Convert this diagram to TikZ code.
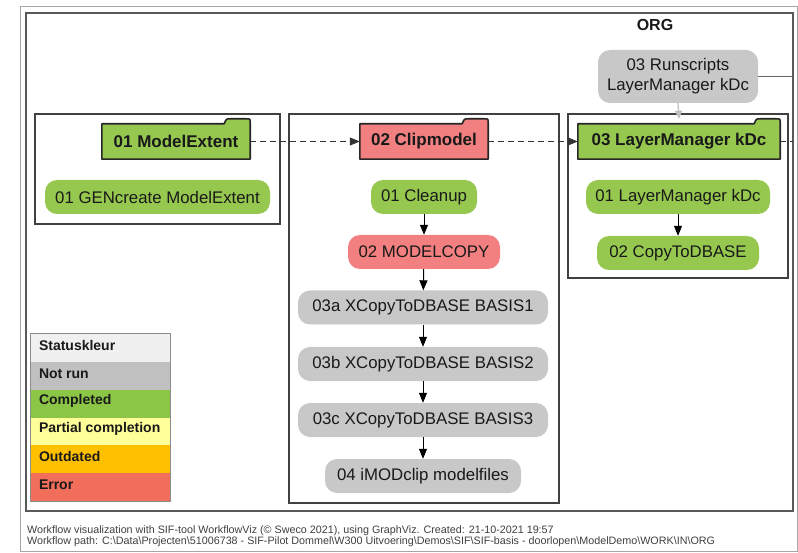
\documentclass[tikz,border=0pt]{standalone}
\usepackage{fontspec}
\setmainfont{Liberation Sans}
\usetikzlibrary{arrows.meta,calc}
\definecolor{txt}{RGB}{25,25,25}
\definecolor{ngreen}{RGB}{150,200,80}
\definecolor{nred}{RGB}{242,128,128}
\definecolor{ngray}{RGB}{200,200,200}
\definecolor{lgstat}{RGB}{240,240,240}
\definecolor{lgnot}{RGB}{192,192,192}
\definecolor{lggreen}{RGB}{140,198,70}
\definecolor{lgyellow}{RGB}{255,255,153}
\definecolor{lgorange}{RGB}{255,192,0}
\definecolor{lgred}{RGB}{240,110,90}
\newcommand\folderdraw[2]{%
  \fill[#2] ([xshift=-26pt]#1.north east) .. controls ([xshift=-24pt,yshift=5pt]#1.north east) .. ([xshift=-20pt,yshift=5pt]#1.north east) -- ([xshift=-4pt,yshift=5pt]#1.north east) .. controls ([yshift=5pt]#1.north east) .. ([yshift=1pt]#1.north east) -- (#1.north east) -- cycle;
  \draw[folderline] (#1.south west) -- (#1.north west) -- ([xshift=-26pt]#1.north east) .. controls ([xshift=-24pt,yshift=5pt]#1.north east) .. ([xshift=-20pt,yshift=5pt]#1.north east) -- ([xshift=-4pt,yshift=5pt]#1.north east) .. controls ([yshift=5pt]#1.north east) .. ([yshift=1pt]#1.north east) -- (#1.south east) -- cycle;}
\begin{document}
\begin{tikzpicture}[x=1pt,y=-1pt,
  task/.style={rounded corners=12pt, minimum height=34pt, inner sep=0pt, text=txt, font=\fontsize{16.8}{20}\selectfont},
  gtask/.style={task, fill=ngreen},
  rtask/.style={task, fill=nred},
  ntask/.style={task, fill=ngray},
  folder/.style={minimum height=35pt, inner sep=0pt, text=txt, font=\bfseries\fontsize{17}{20}\selectfont},
  folderline/.style={draw=black!85, line width=1.6pt, line join=round},
  cluster/.style={draw=black!75, line width=1.1pt, inner sep=0pt},
  legrow/.style={minimum width=139pt, minimum height=27.8pt, inner sep=0pt, text width=125pt, align=left, text=txt, font=\bfseries\fontsize{14}{16}\selectfont},
  legtext/.style={anchor=west, inner sep=0pt, text=txt, font=\bfseries\fontsize{14}{16}\selectfont},
  tip/.style={-{Triangle[length=10pt,width=8pt]}},
  flow/.style={draw=black, line width=1pt, tip},
  dflow/.style={draw=black!80, line width=1pt, dash pattern=on 6pt off 4pt},
  footer/.style={anchor=west, inner sep=0pt, text=black!75, font=\fontsize{10.75}{12}\selectfont}
]
\useasboundingbox (0,0) rectangle (798,553);
\fill[white] (0,0) rectangle (798,553);
% frames
\node[draw=black!35, line width=1pt, minimum width=777pt, minimum height=544pt, inner sep=0pt] (outer) at (408.5,279) {};
\node[draw=black!65, line width=1.4pt, minimum width=767pt, minimum height=498pt, inner sep=0pt] (frame) at (409.5,262) {};
\node[text=txt, font=\bfseries\fontsize{16}{19}\selectfont] (org) at (655,25) {ORG};
% clusters
\node[cluster, minimum width=245pt, minimum height=110pt] (c1) at (157.5,169) {};
\node[cluster, minimum width=270pt, minimum height=389pt] (c2) at (424,308.5) {};
\node[cluster, minimum width=220pt, minimum height=164pt] (c3) at (678,196) {};
% folder nodes
\node[folder, fill=ngreen, minimum width=148pt] (f1) at (176,141.5) {01 ModelExtent};
\folderdraw{f1}{ngreen}
\node[folder, fill=nred, minimum width=128pt] (f2) at (424,141.5) {02 Clipmodel};
\folderdraw{f2}{nred}
\node[folder, fill=ngreen, minimum width=202pt] (f3) at (679,141.5) {03 LayerManager kDc};
\folderdraw{f3}{ngreen}
% tasks
\node[ntask, minimum width=160pt, minimum height=53pt, align=center, font=\fontsize{16.8}{20}\selectfont] (rs) at (678,76.5) {03 Runscripts\\LayerManager kDc};
\node[gtask, minimum width=225pt] (gen) at (157.5,197) {01 GENcreate ModelExtent};
\node[gtask, minimum width=106pt] (clean) at (424,197) {01 Cleanup};
\node[rtask, minimum width=152pt] (mcopy) at (424,252) {02 MODELCOPY};
\node[ntask, minimum width=250pt] (b1) at (423,307.5) {03a XCopyToDBASE BASIS1};
\node[ntask, minimum width=250pt] (b2) at (423,364) {03b XCopyToDBASE BASIS2};
\node[ntask, minimum width=250pt] (b3) at (423,420) {03c XCopyToDBASE BASIS3};
\node[ntask, minimum width=196pt] (imod) at (423,476) {04 iMODclip modelfiles};
\node[gtask, minimum width=184pt] (lm1) at (678,197) {01 LayerManager kDc};
\node[gtask, minimum width=162pt] (lm2) at (678,253) {02 CopyToDBASE};
% edges
\draw[flow] (clean) -- (mcopy);
\draw[flow] (mcopy) -- (b1);
\draw[flow] (b1) -- (b2);
\draw[flow] (b2) -- (b3);
\draw[flow] (b3) -- (imod);
\draw[flow] (lm1) -- (lm2);
\draw[dflow, tip] (f1.east) -- (f2.west);
\draw[dflow, tip] (f2.east) -- (f3.west);
\coordinate (out1) at (793,141.5);
\coordinate (out2) at (793,76.5);
\draw[dflow] (f3.east) -- (out1);
\draw[draw=black!60, line width=1pt] (rs.east) -- (out2);
\draw[draw=black!25, line width=1.2pt, -{Triangle[length=8pt,width=7pt]}] (rs.south) -- ([yshift=5pt]f3.north);
% legend
\node[legrow, fill=lgstat] (l0) at (100.5,348) {};
\node[legrow, fill=lgnot] (l1) at (100.5,375.8) {};
\node[legrow, fill=lggreen] (l2) at (100.5,403.6) {};
\node[legrow, fill=lgyellow] (l3) at (100.5,431.4) {};
\node[legrow, fill=lgorange] (l4) at (100.5,459.2) {};
\node[legrow, fill=lgred] (l5) at (100.5,487) {};
\node[legtext] (t0) at ([xshift=8pt,yshift=2.5pt]l0.west) {Statuskleur};
\node[legtext] (t1) at ([xshift=8pt,yshift=2.5pt]l1.west) {Not run};
\node[legtext] (t2) at ([xshift=8pt,yshift=2.5pt]l2.west) {Completed};
\node[legtext] (t3) at ([xshift=8pt,yshift=2.5pt]l3.west) {Partial completion};
\node[legtext] (t4) at ([xshift=8pt,yshift=2.5pt]l4.west) {Outdated};
\node[legtext] (t5) at ([xshift=8pt,yshift=2.5pt]l5.west) {Error};
\draw[draw=black!45, line width=1pt] (l0.north west) rectangle (l5.south east);
% footer
\node[footer] (ft1) at (27,531) {Workflow visualization with SIF-tool WorkflowViz (© Sweco 2021), using GraphViz. Created: 21-10-2021 19:57};
\node[footer] (ft2) at (27,542) {Workflow path: C:\textbackslash Data\textbackslash Projecten\textbackslash 51006738 - SIF-Pilot Dommel\textbackslash W300 Uitvoering\textbackslash Demos\textbackslash SIF\textbackslash SIF-basis - doorlopen\textbackslash ModelDemo\textbackslash WORK\textbackslash IN\textbackslash ORG};
\end{tikzpicture}
\end{document}
